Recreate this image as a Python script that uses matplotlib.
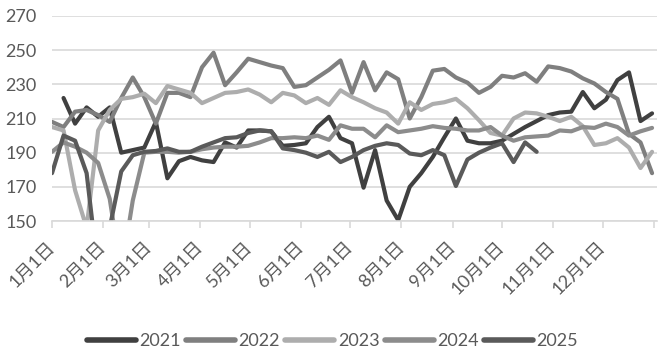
import numpy as np
import matplotlib.pyplot as plt

nan = np.nan

# weekly points, day of year
days = np.arange(53) * 7

y2021 = [nan, 222, 207, 216.5, 211, 216.5, 190, 191.5, 193, 208,
         175, 185, 187.5, 185.5, 184.5, 196, 193, 203, 203, 202.5,
         194, 194.5, 195.5, 205, 211, 198.5, 195.5, 169.5, 191.5, 162,
         150.5, 170, 178, 187.5, 199, 210, 197, 195.5, 195.5, 197,
         201, 205, 208.5, 212, 213.5, 214, 225.5, 216, 221, 232.5,
         237, 208.5, 213]
y2022 = [208, 205, 214, 215, 212, 208, 222, 234, 222.5, 207,
         225, 225, 222.5, 240, 248.5, 229.5, 237, 245, 243, 241,
         239.5, 228.5, 229.5, 234, 238.5, 244, 225, 243, 226.5, 237,
         233, 210, 222.5, 238, 239, 234, 231, 225, 228.5, 235,
         234, 236.5, 231.5, 240.5, 239.5, 237.5, 233.5, 230.5, 225.5, 221.5,
         201, 196, 178]
y2023 = [205, 203, 168, 146, 203, 215, 221.5, 222.5, 224.5, 219,
         229, 227, 225, 219, 222, 225, 225.5, 227, 224, 219.5,
         225, 223.5, 219, 222, 218, 226.5, 222.5, 219.5, 216, 213.5,
         207, 219.5, 215, 218.5, 219.5, 221.5, 216, 209, 201.5, 200,
         210, 213.5, 213, 211, 208.5, 211, 205.5, 194.5, 195.5, 198.5,
         193, 181, 190.5]
y2024 = [190.5, 196, 193.5, 190, 184, 163, 120, 162, 190, 190.5,
         190.5, 190, 190.5, 192, 193, 193.5, 193.5, 194, 196, 198.5,
         198.5, 199, 198.5, 200, 197.5, 206, 204, 204, 199, 206,
         202, 203, 204, 205.5, 204.5, 204, 203, 203, 205, 200,
         197, 199, 199.5, 200, 203, 202.5, 205, 204.5, 207, 205,
         200, 202.5, 204.5]
y2025 = [178, 200, 197, 178, 120, 146, 179, 188.5, 190.5, 191,
         192.5, 190.5, 190.5, 193.5, 196, 198.5, 199, 201.5, 203, 202.5,
         192.5, 191.5, 190, 187.5, 190.5, 184.5, 187.5, 191.5, 194, 195.5,
         194.5, 189.5, 188.5, 191.5, 188.5, 170.5, 186, 190, 193, 195.5,
         184.5, 196, 190.5, nan, nan, nan, nan, nan, nan, nan,
         nan, nan, nan]

series = ['2021', '2022', '2023', '2024', '2025']
colors = ['#404040', '#7f7f7f', '#adadad', '#8c8c8c', '#5a5a5a']

month_days = [0, 31, 59, 90, 120, 151, 181, 212, 243, 273, 304, 334, 365]
month_labels = ['1月1日', '2月1日', '3月1日', '4月1日', '5月1日', '6月1日',
                '7月1日', '8月1日', '9月1日', '10月1日', '11月1日', '12月1日', '']

fonts = ['Lato', 'Noto Sans CJK SC', 'DejaVu Sans']
text_color = '#595959'

fig = plt.figure(figsize=(6.65, 3.57), dpi=100)
ax = fig.add_axes([52 / 665, 1 - 221 / 357, 605 / 665, 205 / 357])

for name, vals, c in zip(series, [y2021, y2022, y2023, y2024, y2025], colors):
    ax.plot(days, vals, color=c, lw=3, label=name,
            solid_joinstyle='round', solid_capstyle='round')

ax.set_ylim(150, 270)
ax.set_yticks(range(150, 271, 20))
ax.set_xlim(0, 367)
ax.grid(axis='y', color='#d9d9d9', lw=1.2)
ax.set_axisbelow(True)
for s in ['top', 'right', 'left']:
    ax.spines[s].set_visible(False)
ax.spines['bottom'].set_color('#d9d9d9')
ax.spines['bottom'].set_linewidth(1.2)

ax.tick_params(axis='y', length=0, pad=11, labelsize=13, labelcolor=text_color)
for lab in ax.get_yticklabels():
    lab.set_family(fonts)

ax.set_xticks(month_days)
ax.set_xticklabels(month_labels)
ax.tick_params(axis='x', length=5, width=1.2, color='#d9d9d9', pad=12,
               labelsize=13, labelcolor=text_color)
for lab in ax.get_xticklabels():
    lab.set_family(fonts)
    lab.set_rotation(45)
    lab.set_ha('right')
    lab.set_va('center')
    lab.set_rotation_mode('anchor')

leg = fig.legend(loc='center', bbox_to_anchor=(0.5, 1 - 341 / 357), ncol=5,
                 frameon=False, handlelength=2.7, handletextpad=0.2,
                 columnspacing=0.3, prop={'family': fonts, 'size': 13})
for t in leg.get_texts():
    t.set_color(text_color)
for h in leg.get_lines():
    h.set_linewidth(4)

fig.savefig('out.png', dpi=100)
